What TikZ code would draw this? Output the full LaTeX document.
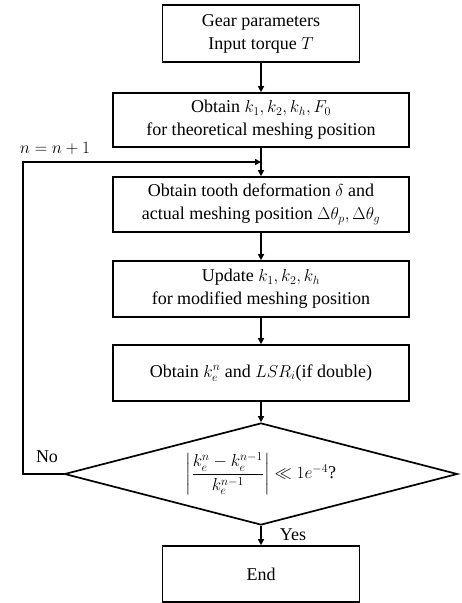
\documentclass[tikz,border=0pt]{standalone}
\usepackage{amsmath}
\usepackage{fontspec}
\setmainfont{Liberation Serif}
\usetikzlibrary{shapes.geometric,arrows.meta}
\begin{document}
\begin{tikzpicture}[x=1pt,y=-1pt,
  box/.style={draw,line width=1.7pt,align=center,inner sep=2pt,font=\fontsize{18}{23}\selectfont},
  dia/.style={draw,line width=1.7pt,diamond,shape aspect=3.85,inner sep=0pt,minimum width=393pt,minimum height=102pt,font=\fontsize{18}{23}\selectfont},
  arr/.style={line width=1.6pt,-{Triangle[length=6pt,width=6pt]}},
  lbl/.style={font=\fontsize{18}{20}\selectfont,inner sep=0pt}]
\useasboundingbox (0,0) rectangle (462,603);
\node[box,minimum width=197pt,minimum height=57pt] (b1) at (261,33.5) {Gear parameters\\Input torque $T$};
\node[box,minimum width=296pt,minimum height=54pt] (b2) at (261,120) {Obtain $k_1,k_2,k_h,F_0$\\for theoretical meshing position};
\node[box,minimum width=296pt,minimum height=55pt] (b3) at (261,204.5) {Obtain tooth deformation $\delta$ and\\actual meshing position $\Delta\theta_p,\Delta\theta_g$};
\node[box,minimum width=296pt,minimum height=56pt] (b4) at (261,289) {Update $k_1,k_2,k_h$\\for modified meshing position};
\node[box,minimum width=296pt,minimum height=56pt] (b5) at (261,373) {Obtain $k_e^n$ and $LSR_i$(if double)};
\node[dia] (d) at (261,474) {$\left|\dfrac{k_e^n-k_e^{n-1}}{k_e^{n-1}}\right|\ll 1e^{-4}$?};
\node[box,minimum width=197pt,minimum height=56pt] (e) at (261,574) {End};
\coordinate (lp) at (261,162);
\coordinate (c1) at (23,474);
\coordinate (c2) at (23,162);
\draw[arr] (b1) -- (b2);
\draw[arr] (b2) -- (b3);
\draw[arr] (b3) -- (b4);
\draw[arr] (b4) -- (b5);
\draw[arr] (b5) -- (d);
\draw[arr] (d) -- (e);
\draw[arr] (d.west) -- (c1) -- (c2) -- (lp);
\node[lbl] (no) at (47,457) {No};
\node[lbl] (yes) at (293,535) {Yes};
\node[lbl] (inc) at (55,148) {$n=n+1$};
\end{tikzpicture}
\end{document}
